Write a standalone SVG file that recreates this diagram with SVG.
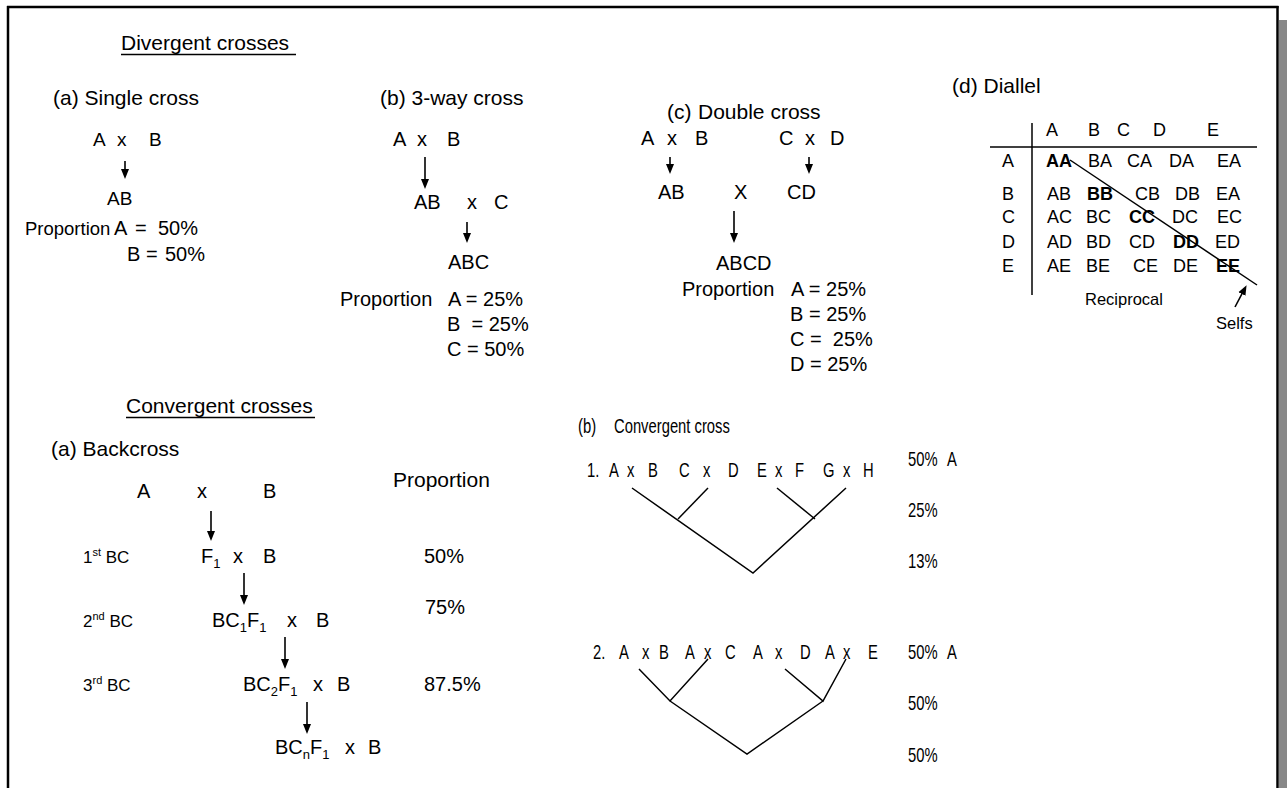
<svg xmlns="http://www.w3.org/2000/svg" width="1287" height="788" viewBox="0 0 1287 788">
<defs>
<style>
text{font-family:"Liberation Sans",Arial,Helvetica,sans-serif;fill:#000}
.h{font-size:21px}
.b{font-size:20px}
.s{font-size:19px}
.d{font-size:18px}
.sm{font-size:17px}
.xs{font-size:16.5px}
.bold{font-weight:bold}
.n{font-size:20px}
.ln{stroke:#000;stroke-width:1.5;fill:none}
.ar{stroke:#000;stroke-width:1.6;fill:none;marker-end:url(#ah)}
</style>
<marker id="ah" markerUnits="userSpaceOnUse" markerWidth="10" markerHeight="10" viewBox="0 0 10 8" refX="6" refY="4" orient="auto">
<path d="M0,0 L10,4 L0,8 z" fill="#000"/>
</marker>
</defs>
<rect width="1287" height="788" fill="#fff"/>
<g id="frame">
<rect x="1279" y="20" width="8" height="768" fill="#888"/>
<line x1="7" y1="7" x2="1278.5" y2="7" stroke="#000" stroke-width="2.5"/>
<line x1="8" y1="6" x2="8" y2="788" stroke="#000" stroke-width="2.5"/>
<line x1="1277.5" y1="6" x2="1277.5" y2="788" stroke="#000" stroke-width="2.5"/>
</g>

<g id="divergent-title">
<text class="h" x="121" y="50">Divergent crosses</text>
<line class="ln" x1="121" y1="54.5" x2="296" y2="54.5" stroke-width="1.2"/>
</g>

<g id="single-cross">
<text class="h" x="53" y="105">(a) Single cross</text>
<text class="s" y="146"><tspan x="93">A</tspan><tspan x="117">x</tspan><tspan x="149">B</tspan></text>
<text class="s" x="107" y="205">AB</text>
<text y="235" font-size="18.5"><tspan x="25">Proportion</tspan></text>
<text class="b" y="235"><tspan x="114">A</tspan><tspan x="135">=</tspan><tspan x="158">50%</tspan></text>
<text class="b" y="261"><tspan x="127">B</tspan><tspan x="146">=</tspan><tspan x="165">50%</tspan></text>
</g>

<g id="three-way-cross">
<text class="h" x="380" y="105">(b) 3-way cross</text>
<text class="b" y="146"><tspan x="393">A</tspan><tspan x="417">x</tspan><tspan x="447">B</tspan></text>
<text class="b" y="209"><tspan x="414">AB</tspan><tspan x="467">x</tspan><tspan x="494">C</tspan></text>
<text class="b" x="448" y="269">ABC</text>
<text class="b" y="306"><tspan x="340">Proportion</tspan><tspan x="448">A = 25%</tspan></text>
<text class="b" x="447" y="331" xml:space="preserve">B  = 25%</text>
<text class="b" x="447" y="356">C = 50%</text>
</g>

<g id="double-cross">
<text class="h" y="119"><tspan x="667">(c)</tspan><tspan x="698">Double cross</tspan></text>
<text class="b" y="145"><tspan x="641">A</tspan><tspan x="667">x</tspan><tspan x="695">B</tspan><tspan x="779">C</tspan><tspan x="805">x</tspan><tspan x="830">D</tspan></text>
<text class="b" y="199"><tspan x="658">AB</tspan><tspan x="734">X</tspan><tspan x="787">CD</tspan></text>
<text class="b" x="716" y="270">ABCD</text>
<text class="b" y="296"><tspan x="682">Proportion</tspan><tspan x="791">A = 25%</tspan></text>
<text class="b" x="790" y="321">B = 25%</text>
<text class="b" x="790" y="346" xml:space="preserve">C =  25%</text>
<text class="b" x="790" y="371">D = 25%</text>
</g>

<g id="diallel">
<text class="h" x="952" y="93">(d) Diallel</text>
<text class="d" y="136"><tspan x="1046">A</tspan><tspan x="1088">B</tspan><tspan x="1117">C</tspan><tspan x="1153">D</tspan><tspan x="1207">E</tspan></text>
<line class="ln" x1="990" y1="147" x2="1257" y2="147"/>
<line class="ln" x1="1032" y1="123" x2="1032" y2="295" stroke-width="1.8"/>
<text class="d" x="1002" y="167">A</text>
<text class="d" x="1002" y="200">B</text>
<text class="d" x="1002" y="223">C</text>
<text class="d" x="1002" y="248">D</text>
<text class="d" x="1002" y="272">E</text>
<text class="d" y="167"><tspan x="1046" class="bold">AA</tspan><tspan x="1088">BA</tspan><tspan x="1127">CA</tspan><tspan x="1169">DA</tspan><tspan x="1217">EA</tspan></text>
<text class="d" y="200"><tspan x="1047">AB</tspan><tspan x="1087" class="bold">BB</tspan><tspan x="1135">CB</tspan><tspan x="1175">DB</tspan><tspan x="1216">EA</tspan></text>
<text class="d" y="223"><tspan x="1047">AC</tspan><tspan x="1086">BC</tspan><tspan x="1129" class="bold">CC</tspan><tspan x="1172">DC</tspan><tspan x="1217">EC</tspan></text>
<text class="d" y="248"><tspan x="1047">AD</tspan><tspan x="1086">BD</tspan><tspan x="1129">CD</tspan><tspan x="1173" class="bold">DD</tspan><tspan x="1215">ED</tspan></text>
<text class="d" y="272"><tspan x="1047">AE</tspan><tspan x="1086">BE</tspan><tspan x="1133">CE</tspan><tspan x="1173">DE</tspan><tspan x="1216" class="bold">EE</tspan></text>
<line class="ln" x1="1070" y1="160" x2="1257" y2="285"/>
<text class="xs" x="1085" y="305">Reciprocal</text>
<text class="xs" x="1216" y="329">Selfs</text>
</g>

<g id="convergent-title">
<text class="h" x="126" y="413">Convergent crosses</text>
<line class="ln" x1="126" y1="417.5" x2="315" y2="417.5" stroke-width="1.2"/>
</g>

<g id="backcross">
<text class="h" x="51" y="456">(a) Backcross</text>
<text class="h" x="393" y="487">Proportion</text>
<text class="b" y="498"><tspan x="137">A</tspan><tspan x="197">x</tspan><tspan x="263">B</tspan></text>
<text class="sm" x="83" y="563">1<tspan font-size="11" dy="-7">st</tspan><tspan dy="7"> BC</tspan></text>
<text class="b" y="563"><tspan x="201">F</tspan><tspan font-size="13" dy="5">1</tspan><tspan x="233" dy="-5">x</tspan><tspan x="263">B</tspan></text>
<text class="b" x="424" y="563">50%</text>
<text class="b" x="425" y="614">75%</text>
<text class="sm" x="83" y="627">2<tspan font-size="11" dy="-7">nd</tspan><tspan dy="7"> BC</tspan></text>
<text class="b" y="627"><tspan x="212">BC</tspan><tspan font-size="13" dy="5">1</tspan><tspan dy="-5">F</tspan><tspan font-size="13" dy="5">1</tspan><tspan x="287" dy="-5">x</tspan><tspan x="316">B</tspan></text>
<text class="sm" x="83" y="691">3<tspan font-size="11" dy="-7">rd</tspan><tspan dy="7"> BC</tspan></text>
<text class="b" y="691"><tspan x="243">BC</tspan><tspan font-size="13" dy="5">2</tspan><tspan dy="-5">F</tspan><tspan font-size="13" dy="5">1</tspan><tspan x="313" dy="-5">x</tspan><tspan x="337">B</tspan></text>
<text class="b" x="424" y="691">87.5%</text>
<text class="b" y="754"><tspan x="275">BC</tspan><tspan font-size="13" dy="5">n</tspan><tspan dy="-5">F</tspan><tspan font-size="13" dy="5">1</tspan><tspan x="345" dy="-5">x</tspan><tspan x="368">B</tspan></text>
</g>

<g id="convergent-cross" transform="scale(0.74,1)">
<text class="n" y="433"><tspan x="781.08">(b)</tspan><tspan x="829.73">Convergent cross</tspan></text>
<text class="n" y="477"><tspan x="793.24">1.</tspan><tspan x="822.97">A</tspan><tspan x="847.3">x</tspan><tspan x="875.68">B</tspan><tspan x="917.57">C</tspan><tspan x="950">x</tspan><tspan x="983.78">D</tspan><tspan x="1022.97">E</tspan><tspan x="1047.3">x</tspan><tspan x="1074.32">F</tspan><tspan x="1112.16">G</tspan><tspan x="1139.19">x</tspan><tspan x="1166.22">H</tspan></text>
<text class="n" y="466"><tspan x="1227.03">50%</tspan><tspan x="1279.73">A</tspan></text>
<text class="n" x="1227.03" y="517">25%</text>
<text class="n" x="1227.03" y="568">13%</text>
<text class="n" y="659"><tspan x="801.35">2.</tspan><tspan x="836.49">A</tspan><tspan x="867.57">x</tspan><tspan x="890.54">B</tspan><tspan x="925.68">A</tspan><tspan x="951.35">x</tspan><tspan x="979.73">C</tspan><tspan x="1017.57">A</tspan><tspan x="1047.3">x</tspan><tspan x="1081.08">D</tspan><tspan x="1114.86">A</tspan><tspan x="1139.19">x</tspan><tspan x="1172.97">E</tspan></text>
<text class="n" y="659"><tspan x="1227.03">50%</tspan><tspan x="1279.73">A</tspan></text>
<text class="n" x="1227.03" y="710">50%</text>
<text class="n" x="1227.03" y="762">50%</text>
</g>

<g id="connectors">
<line class="ar" x1="125" y1="161" x2="125" y2="175"/>
<line class="ar" x1="425" y1="157" x2="425" y2="185"/>
<line class="ar" x1="467" y1="222" x2="467" y2="239"/>
<line class="ar" x1="670" y1="157" x2="670" y2="170"/>
<line class="ar" x1="809" y1="157" x2="809" y2="170"/>
<line class="ar" x1="734" y1="211" x2="734" y2="239"/>
<line class="ar" x1="1235" y1="307" x2="1244.7" y2="288.7"/>
<line class="ar" x1="211" y1="511" x2="211" y2="537"/>
<line class="ar" x1="244" y1="573" x2="244" y2="601"/>
<line class="ar" x1="285" y1="637" x2="285" y2="665"/>
<line class="ar" x1="307" y1="702" x2="307" y2="730"/>
<polyline class="ln" points="632,488 753,573 846,488"/>
<line class="ln" x1="708" y1="488" x2="678" y2="519"/>
<line class="ln" x1="777" y1="488" x2="815" y2="519"/>
<polyline class="ln" points="639,669 670,701 708,659"/>
<polyline class="ln" points="785,669 823,701 846,659"/>
<polyline class="ln" points="670,701 747,754 823,701"/>
</g>
</svg>
